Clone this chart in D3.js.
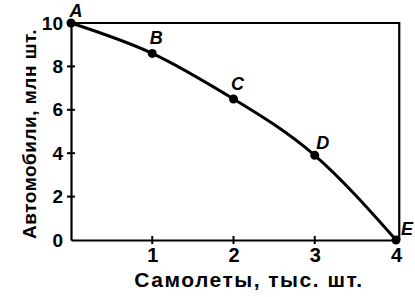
<!DOCTYPE html>
<html>
<head>
<meta charset="utf-8">
<script src="https://cdn.jsdelivr.net/npm/d3@7"></script>
<style>
body{margin:0;padding:0;background:#fff;}
svg{display:block;font-family:"Liberation Sans",Arial,sans-serif;}
</style>
</head>
<body>
<div id="chart"></div>
<script>
//values
var labels = ["A","B","C","D","E"];
var planes = [0, 1, 2, 3, 4];          //тыс. шт.
var cars = [10, 8.6, 6.5, 3.9, 0];     //млн шт.
var xticks = [1, 2, 3, 4];
var yticks = [0, 2, 4, 6, 8, 10];

var width = 415, height = 297;

var svg = d3.select("#chart").append("svg").attr("width", width).attr("height", height);

var x = d3.scaleLinear().domain([0, 4]).range([71, 396]);
var y = d3.scaleLinear().domain([0, 10]).range([240, 23]);

var data = planes.map(function(d,i){return {x:d, y:cars[i], label:labels[i]}});

//frame: top and right edge
svg.append("path")
	.attr("d", "M" + x(0) + "," + y(10) + "H" + x(4.04) + "V" + y(0))
	.attr("fill", "none").attr("stroke", "#000").attr("stroke-width", 2.2);

//axes
var yAxis = d3.axisLeft(y).tickValues(yticks).tickSize(0).tickPadding(8).tickFormat(d3.format("d"));
var gy = svg.append("g").attr("transform", "translate(" + x(0) + ",0)").call(yAxis);
gy.select(".domain").attr("stroke-width", 2.2);
gy.selectAll("text").attr("font-size", 19).attr("font-weight", "bold").attr("fill", "#000");

var xAxis = d3.axisBottom(x).tickValues(xticks).tickSize(0).tickPadding(8).tickFormat(d3.format("d"));
var gx = svg.append("g").attr("transform", "translate(0," + y(0) + ")").call(xAxis);
gx.select(".domain").attr("stroke-width", 2.2);
gx.selectAll("text").attr("font-size", 20).attr("font-weight", "bold").attr("fill", "#000");

//small ticks crossing the axes
svg.append("g").selectAll("line.yt").data(yticks.filter(function(d){return d>0 && d<10}))
	.enter().append("line").classed("yt", true)
	.attr("x1", x(0) - 4).attr("x2", x(0) + 4)
	.attr("y1", function(d){return y(d)}).attr("y2", function(d){return y(d)})
	.attr("stroke", "#000").attr("stroke-width", 2);
svg.append("g").selectAll("line.xt").data(xticks.filter(function(d){return d<4}))
	.enter().append("line").classed("xt", true)
	.attr("x1", function(d){return x(d)}).attr("x2", function(d){return x(d)})
	.attr("y1", y(0) - 4).attr("y2", y(0) + 4)
	.attr("stroke", "#000").attr("stroke-width", 2);

//curve
var line = d3.line().x(function(d){return x(d.x)}).y(function(d){return y(d.y)}).curve(d3.curveNatural);
svg.append("path").datum(data).attr("d", line)
	.attr("fill", "none").attr("stroke", "#000").attr("stroke-width", 3);

svg.append("g").selectAll("circle").data(data).enter().append("circle")
	.attr("cx", function(d){return x(d.x)}).attr("cy", function(d){return y(d.y)})
	.attr("r", 4.5).attr("fill", "#000");

//point letters
var offs = {A:[5,-6,"middle"], B:[4,-9,"middle"], C:[4,-9,"middle"], D:[8,-6,"middle"], E:[5,-5,"start"]};
svg.append("g").selectAll("text").data(data).enter().append("text")
	.attr("x", function(d){return x(d.x) + offs[d.label][0]})
	.attr("y", function(d){return y(d.y) + offs[d.label][1]})
	.attr("text-anchor", function(d){return offs[d.label][2]})
	.attr("font-size", 18).attr("font-style", "italic").attr("font-weight", "bold")
	.text(function(d){return d.label});

//axis titles
svg.append("text").attr("x", 249).attr("y", 287).attr("text-anchor", "middle")
	.attr("font-size", 21).attr("font-weight", "bold").attr("letter-spacing", 1.5)
	.text("Самолеты, тыс. шт.");
svg.append("text").attr("transform", "translate(36,134) rotate(-90)").attr("text-anchor", "middle")
	.attr("font-size", 19).attr("font-weight", "bold").attr("letter-spacing", 0.5)
	.text("Автомобили, млн шт.");
</script>
</body>
</html>
